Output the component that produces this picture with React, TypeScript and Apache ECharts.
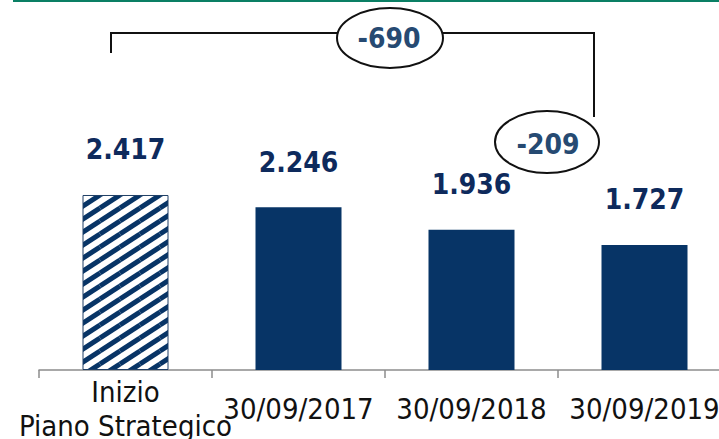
import React, { useEffect, useRef } from "react";
import * as echarts from "echarts";

const categories: string[] = ["Inizio\nPiano Strategico", "30/09/2017", "30/09/2018", "30/09/2019"];
const values: number[] = [2417, 2246, 1936, 1727];
const hatchedIndex = 0;

const NAVY = "#073466";
const LABEL_NAVY = "#0e2a5c";
const OVAL_TEXT = "#264a72";
const FONT_C = "'DejaVu Sans Condensed', 'DejaVu Sans', sans-serif";

function fmt(v: number): string {
  const s = String(Math.abs(v)).replace(/\B(?=(\d{3})+(?!\d))/g, ".");
  return (v < 0 ? "-" : "") + s;
}

function makeHatch(): HTMLCanvasElement {
  const w = 20, h = 13;
  const c = document.createElement("canvas");
  c.width = w;
  c.height = h;
  const ctx = c.getContext("2d")!;
  ctx.fillStyle = "#ffffff";
  ctx.fillRect(0, 0, w, h);
  ctx.strokeStyle = NAVY;
  ctx.lineWidth = 5;
  for (const dx of [-w, 0, w]) {
    for (const dy of [-h, 0, h]) {
      ctx.beginPath();
      ctx.moveTo(dx, h + dy);
      ctx.lineTo(w + dx, dy);
      ctx.stroke();
    }
  }
  return c;
}

export default function App() {
  const ref = useRef<HTMLDivElement>(null);
  useEffect(() => {
    if (!ref.current) return;
    const chart = echarts.init(ref.current, null, { renderer: "svg" });
    const hatch = makeHatch();
    const d1 = values[values.length - 1] - values[0];
    const d2 = values[values.length - 1] - values[values.length - 2];
    chart.setOption({
      animation: false,
      grid: { left: 39, top: 0, right: 9, bottom: 69, containLabel: false, outerBoundsMode: "none" },
      xAxis: {
        type: "category",
        data: categories,
        axisLine: { show: true, lineStyle: { color: "#8c8c8c", width: 1.5 } },
        axisTick: { show: true, length: 8, interval: 0, lineStyle: { color: "#8c8c8c", width: 1.5 } },
        axisLabel: {
          interval: 0,
          margin: 39,
          verticalAlign: "middle",
          fontFamily: FONT_C,
          fontSize: 29,
          lineHeight: 34,
          color: "#111",
        },
      },
      yAxis: { type: "value", min: 0, max: 5110, show: false, splitLine: { show: false } },
      series: [
        {
          type: "bar",
          barWidth: 86,
          data: values.map((v, i) =>
            i === hatchedIndex
              ? {
                  value: v,
                  itemStyle: {
                    color: { image: hatch, repeat: "repeat" },
                    borderColor: "#1f3f66",
                    borderWidth: 1,
                  },
                }
              : { value: v }
          ),
          itemStyle: { color: NAVY },
          label: {
            show: true,
            position: "top",
            distance: 31,
            formatter: (p: any) => fmt(p.value),
            fontFamily: FONT_C,
            fontWeight: "bold",
            fontSize: 28,
            color: LABEL_NAVY,
          },
        },
      ],
      graphic: [
        { type: "rect", shape: { x: 13, y: 0, width: 706, height: 2 }, style: { fill: "#0a7f64" } },
        {
          type: "polyline",
          shape: { points: [[111, 53], [111, 33], [340, 33]] },
          style: { stroke: "#111", lineWidth: 2, fill: null },
        },
        {
          type: "polyline",
          shape: { points: [[440, 33], [594, 33], [594, 117]] },
          style: { stroke: "#111", lineWidth: 2, fill: null },
        },
        {
          type: "ellipse",
          shape: { cx: 390, cy: 38, rx: 53, ry: 30 },
          style: { fill: "#fff", stroke: "#111", lineWidth: 2 },
        },
        {
          type: "text",
          x: 389,
          y: 38,
          style: {
            text: fmt(d1),
            fill: OVAL_TEXT,
            font: `bold 28px ${FONT_C}`,
            align: "center",
            verticalAlign: "middle",
          },
        },
        {
          type: "ellipse",
          shape: { cx: 547, cy: 142, rx: 52, ry: 31 },
          style: { fill: "#fff", stroke: "#111", lineWidth: 2 },
        },
        {
          type: "text",
          x: 548,
          y: 144,
          style: {
            text: fmt(d2),
            fill: OVAL_TEXT,
            font: `bold 28px ${FONT_C}`,
            align: "center",
            verticalAlign: "middle",
          },
        },
      ],
    });
    return () => chart.dispose();
  }, []);
  return (
    <div style={{ position: "absolute", left: 0, top: 0, width: 719, height: 439, overflow: "hidden", background: "#fff" }}>
      <div ref={ref} style={{ width: 740, height: 439 }} />
    </div>
  );
}
